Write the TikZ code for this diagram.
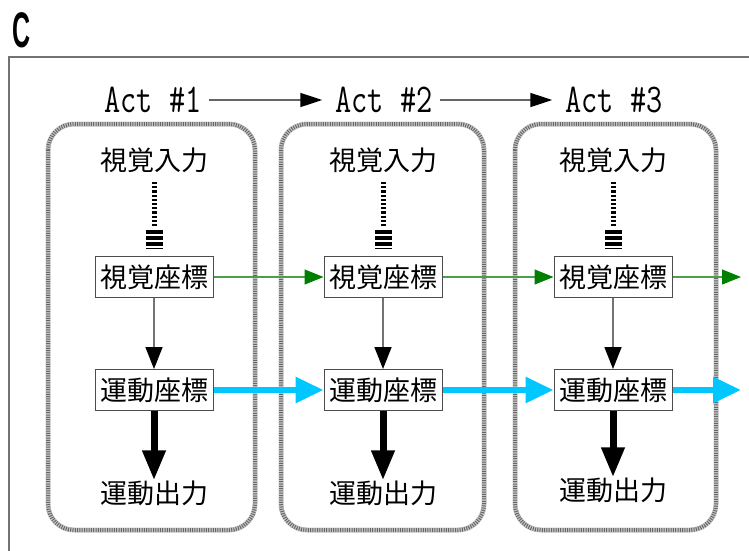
\documentclass[tikz,border=0pt]{standalone}
\usepackage{fontspec}
\newfontfamily\cjk{Noto Sans CJK JP}
\newfontfamily\sansf{Liberation Sans}
\usetikzlibrary{arrows.meta}
\definecolor{cyanarr}{rgb}{0,0.78,1}
\definecolor{greenline}{rgb}{0.3,0.62,0.3}
\definecolor{greentip}{rgb}{0,0.5,0}
\begin{document}
\begin{tikzpicture}[x=1pt,y=-1pt,
  lbl/.style={font=\cjk\fontsize{27}{30}\selectfont, inner sep=0pt},
  coordbox/.style={draw=black!70, line width=1pt, fill=white, font=\cjk\fontsize{27}{30}\selectfont, inner xsep=1pt, inner ysep=0pt, minimum height=41pt, minimum width=118pt},
  act/.style={font=\ttfamily\fontsize{31.4}{32}\selectfont, inner sep=0pt},
  grpbg/.style={draw=black!22, line width=5pt, rounded corners=26pt},
  grpfg/.style={draw=black!60, line width=4pt, rounded corners=26pt, dash pattern=on 1pt off 1.3pt},
  actarr/.style={draw=black!60, line width=1.5pt, -{Triangle[length=22pt,width=14pt,color=black]}},
  dashln/.style={draw=black, line width=5pt, dash pattern=on 2.2pt off 2pt},
  barsln/.style={draw=black, line width=17pt, dash pattern=on 3.5pt off 2.5pt},
  grayarr/.style={draw=black!55, line width=1.5pt, -{Triangle[length=22pt,width=17pt,color=black]}},
  thickarr/.style={draw=black, line width=7pt, -{Triangle[length=30pt,width=22pt,color=black]}},
  greenarr/.style={draw=greenline, line width=1.2pt, -{Triangle[length=19pt,width=15pt,color=greentip]}},
  cyanarrow/.style={draw=cyanarr, line width=6pt, -{Triangle[length=28pt,width=25pt,color=cyanarr]}},
  frameln/.style={draw=black!55, line width=1.5pt}
]
\useasboundingbox (0,0) rectangle (749,550);
% panel letter and frame
\node[inner sep=0pt] (letter) at (22,30) {\sansf\bfseries\fontsize{50}{50}\selectfont\scalebox{0.5}[1]{C}};
\draw[frameln] (9,560) -- (9,57) -- (760,57);

% group boxes
\foreach \xa/\xb in {48/255, 281/484, 515/716}{
  \draw[grpbg] (\xa,124) rectangle (\xb,530);
  \draw[grpfg] (\xa,124) rectangle (\xb,530);
}

% act labels
\node[act] (a1) at (153,100) {\scalebox{1}[1.3]{Act \#1}};
\node[act] (a2) at (384,100) {\scalebox{1}[1.3]{Act \#2}};
\node[act] (a3) at (614,100) {\scalebox{1}[1.3]{Act \#3}};
\draw[actarr] ([xshift=7pt]a1.east) -- ([xshift=-13pt]a2.west);
\draw[actarr] ([xshift=7pt]a2.east) -- ([xshift=-13pt]a3.west);

% columns
\foreach \i/\x/\yo in {1/154/493, 2/383/493, 3/613/490}{
  \node[lbl] (vi\i) at (\x,160) {視覚入力};
  \node[coordbox] (vc\i) at (\x,277) {視覚座標};
  \node[coordbox] (mc\i) at (\x,390) {運動座標};
  \node[lbl] (mo\i) at (\x,\yo) {運動出力};
  \coordinate (t\i) at (\x,182);
  \coordinate (d\i) at (\x,228);
  \coordinate (b\i) at (\x,230);
  \coordinate (c\i) at (\x,249);
  \draw[dashln] (t\i) -- (d\i);
  \draw[barsln] (b\i) -- (c\i);
  \draw[grayarr] (vc\i) -- (mc\i);
  \draw[thickarr] (mc\i) -- (mo\i);
}

\coordinate (ge) at (741,277);
\coordinate (ce) at (741,390);
\draw[greenarr] (vc1) -- (vc2);
\draw[greenarr] (vc2) -- (vc3);
\draw[greenarr] (vc3) -- (ge);
\draw[cyanarrow] (mc1) -- (mc2);
\draw[cyanarrow] (mc2) -- (mc3);
\draw[cyanarrow] (mc3) -- (ce);
\end{tikzpicture}
\end{document}
